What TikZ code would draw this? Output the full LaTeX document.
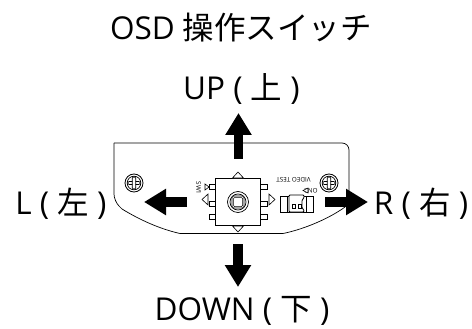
\documentclass[tikz,border=0pt]{standalone}
\usepackage{fontspec}
\setmainfont{Open Sans}
\newfontfamily\cjk{Noto Sans CJK JP}
\usetikzlibrary{arrows.meta}
\tikzstyle{lbl} = [inner sep=0pt, font=\fontsize{31.5}{34}\selectfont]
\tikzstyle{tiny} = [inner sep=0pt, font=\fontsize{6.3}{7}\selectfont, rotate=180]
\tikzstyle{bigarrow} = [line width=9.5pt, -{Triangle[length=22pt,width=25pt]}]
\tikzstyle{part} = [draw, line width=0.8pt, fill=white]
\tikzstyle{dirmark} = [draw, line width=0.6pt, fill=white]

\begin{document}
\begin{tikzpicture}[x=1pt,y=-1pt]
  \useasboundingbox (0,0) rectangle (472,329);

  \node[lbl] (title) at (241,28) {OSD {\cjk 操作スイッチ}};
  \node[lbl] (up)    at (241.5,89) {UP ( {\cjk 上} )};
  \node[lbl] (left)  at (61,204) {L ( {\cjk 左} )};
  \node[lbl] (right) at (421,204) {R ( {\cjk 右} )};
  \node[lbl] (down)  at (242,311) {DOWN ( {\cjk 下} )};

  % plate
  \draw[line width=0.7pt,rounded corners=7pt] (114,143) -- (349,143) -- (349,201);
  \draw[line width=0.7pt,rounded corners=7pt] (114,143) -- (114,201) -- (122,209);
  \draw[line width=0.7pt] (122,209) .. controls (140,220) and (160,229) .. (180,233.5) -- (283,233.5)
    .. controls (305,229) and (330,218) .. (345,207) -- (349,201);

  % arrows
  \coordinate (upstart)    at (238.5,159);
  \coordinate (uptip)      at (238.5,113);
  \coordinate (downstart)  at (238,244);
  \coordinate (downtip)    at (238,287);
  \coordinate (leftstart)  at (187,202);
  \coordinate (lefttip)    at (144,202);
  \coordinate (rightstart) at (325,202);
  \coordinate (righttip)   at (368,202);
  \draw[bigarrow] (upstart) -- (uptip);
  \draw[bigarrow] (downstart) -- (downtip);
  \draw[bigarrow] (leftstart) -- (lefttip);
  \draw[bigarrow] (rightstart) -- (righttip);

  % screws
  \foreach \name/\xx in {screwl/134,screwr/329} {
    \node[circle,draw,line width=0.8pt,minimum size=18pt,inner sep=0pt] (\name) at (\xx,183) {};
    \draw[line width=0.7pt] (\xx,183) circle (6.8pt);
    \draw[line width=0.7pt,rounded corners=1pt] (\xx-6,181.5) rectangle (\xx+6,184.5);
    \draw[line width=0.7pt,rounded corners=1pt,fill=white] (\xx-1.7,177) rectangle (\xx+1.7,189);
  }

  % switch pins
  \foreach \yy in {187,204,217} {
    \draw[part] (209,\yy-2.5) rectangle (216,\yy+2.5);
    \draw[part] (260,\yy-2.5) rectangle (267,\yy+2.5);
  }

  % switch body
  \node[draw,line width=0.9pt,fill=white,minimum width=45pt,minimum height=47pt,inner sep=0pt] (body) at (238,202) {};
  \draw[line width=0.7pt] (body.center) circle (10.5pt);
  \draw[line width=0.7pt] (body.center) circle (8pt);
  \draw[line width=0.7pt,rounded corners=1.5pt] (232,196) rectangle (244,208);
  \draw[line width=0.5pt,rounded corners=1pt] (233.5,197.5) rectangle (242.5,206.5);

  % direction marks
  \draw[dirmark] (232.5,178) -- (238,172) -- (243.5,178) -- cycle;
  \draw[dirmark] (232.5,226) -- (238,232) -- (243.5,226) -- cycle;
  \draw[dirmark] (208,194) -- (202,199.5) -- (208,205) -- cycle;
  \draw[dirmark] (269,194) -- (275,199.5) -- (269,205) -- cycle;
  \draw[dirmark] (205,184) -- (209,187) -- (205,190) -- cycle;
  \draw[line width=0.6pt] (209,184) -- (209,190);

  \node[tiny,rotate=90] (sw) at (198.5,188) {SW1};
  \node[tiny] (video) at (293.5,180) {VIDEO TEST};
  \node[tiny] (on) at (311,191) {ON2};

  % connector
  \node[draw,line width=0.8pt,fill=white,minimum width=33pt,minimum height=16pt,inner sep=0pt] (sock) at (296.5,204) {};
  \draw[line width=0.7pt] (287,196) -- (287,212);
  \draw[line width=0.7pt] (306,196) -- (306,212);
  \draw[line width=0.8pt,rounded corners=1pt,fill=white] (289,195) -- (304,195) -- (304,198) -- (302,200) -- (302,208) -- (304,210) -- (304,212) -- (289,212) -- cycle;
  \draw[line width=0.8pt] (292,204) rectangle (295,208);
  \draw[line width=0.8pt] (298,204) rectangle (301,208);
  \draw[dirmark] (303,190.5) -- (308,188) -- (308,193) -- cycle;
\end{tikzpicture}
\end{document}
